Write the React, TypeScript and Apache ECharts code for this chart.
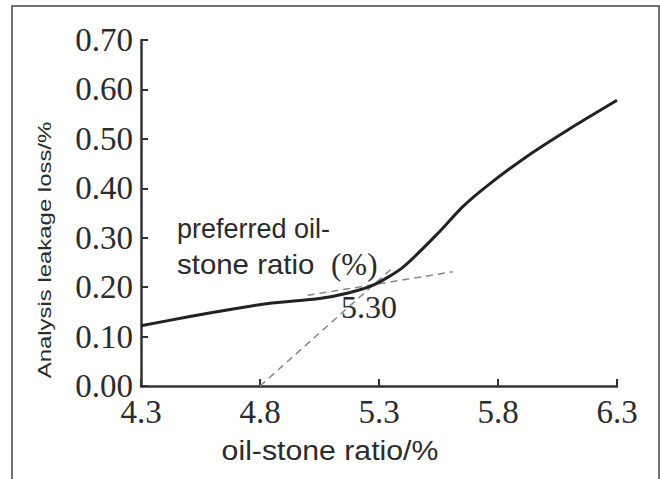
import React, { useEffect, useRef } from "react";
import * as echarts from "echarts";

const curveX = [4.3, 4.5, 4.7, 4.85, 5.05, 5.17, 5.28, 5.4, 5.55, 5.65, 5.76, 5.92, 6.1, 6.3];
const curveY = [0.122, 0.14, 0.157, 0.168, 0.177, 0.188, 0.205, 0.24, 0.31, 0.362, 0.407, 0.464, 0.52, 0.578];
const steepTangentX = [4.8, 5.35];
const steepTangentY = [0.0, 0.236];
const flatTangentX = [5.0, 5.61];
const flatTangentY = [0.1835, 0.231];
const xTicks = [4.3, 4.8, 5.3, 5.8, 6.3];
const yTicks = [0, 0.1, 0.2, 0.3, 0.4, 0.5, 0.6, 0.7];
const xName = "oil-stone ratio/%";
const yName = "Analysis leakage loss/%";
const noteLine1 = "preferred oil-";
const noteLine2 = "stone ratio";
const noteUnit = "(%)";
const optimum = "5.30";

const zip = (xs: number[], ys: number[]) => xs.map((x, i) => [x, ys[i]]);

export default function App() {
  const ref = useRef<HTMLDivElement>(null);
  useEffect(() => {
    if (!ref.current) return;
    const chart = echarts.init(ref.current, null, { renderer: "svg" });
    const serif = "'Liberation Serif', 'Times New Roman', serif";
    const sans = "'Liberation Sans', Arial, sans-serif";
    const txt = "#2b2b2b";
    chart.setOption({
      animation: false,
      backgroundColor: "#fff",
      grid: { left: 141, right: 43, top: 40, bottom: 93 },
      xAxis: {
        type: "value",
        min: 4.3,
        max: 6.3,
        axisLine: { lineStyle: { color: "#333", width: 2.5 } },
        axisTick: { inside: true, length: 7, customValues: xTicks, lineStyle: { color: "#333", width: 2 } },
        axisLabel: {
          customValues: xTicks,
          formatter: (v: number) => v.toFixed(1),
          fontFamily: serif,
          fontSize: 33,
          lineHeight: 33,
          color: txt,
          margin: 9,
        },
        splitLine: { show: false },
      },
      yAxis: {
        type: "value",
        min: 0,
        max: 0.7,
        interval: 0.1,
        axisLine: { show: true, lineStyle: { color: "#333", width: 2.5 } },
        axisTick: { show: true, inside: true, length: 7, lineStyle: { color: "#333", width: 2 } },
        axisLabel: {
          formatter: (v: number) => v.toFixed(2),
          fontFamily: serif,
          fontSize: 33,
          color: txt,
          margin: 8,
        },
        splitLine: { show: false },
      },
      series: [
        {
          type: "line",
          data: zip(steepTangentX, steepTangentY),
          symbol: "none",
          lineStyle: { color: "#888", width: 1.5, type: [7, 5] },
          z: 1,
        },
        {
          type: "line",
          data: zip(flatTangentX, flatTangentY),
          symbol: "none",
          lineStyle: { color: "#888", width: 1.5, type: [7, 5] },
          z: 1,
        },
        {
          type: "line",
          data: zip(curveX, curveY),
          symbol: "none",
          smooth: 0.25,
          lineStyle: { color: "#222", width: 3 },
          z: 3,
        },
      ],
      graphic: [
        {
          type: "rect",
          shape: { x: 12, y: 6, width: 647, height: 490 },
          style: { fill: "none", stroke: "#444", lineWidth: 1.5 },
          silent: true,
        },
        {
          type: "text",
          x: 45,
          y: 250,
          rotation: Math.PI / 2,
          scaleX: 1.33,
          style: { text: yName, font: `18px ${sans}`, fill: txt, align: "center", verticalAlign: "middle" },
        },
        {
          type: "text",
          x: 330,
          y: 451,
          scaleX: 1.12,
          style: { text: xName, font: `27px ${sans}`, fill: txt, align: "center", verticalAlign: "middle" },
        },
        {
          type: "text",
          x: 177,
          y: 229,
          style: { text: noteLine1, font: `27px ${sans}`, fill: txt, align: "left", verticalAlign: "middle" },
        },
        {
          type: "text",
          x: 177,
          y: 264,
          scaleX: 1.09,
          style: { text: noteLine2, font: `27px ${sans}`, fill: txt, align: "left", verticalAlign: "middle" },
        },
        {
          type: "text",
          x: 331,
          y: 264,
          style: { text: noteUnit, font: `31px ${serif}`, fill: txt, align: "left", verticalAlign: "middle" },
        },
        {
          type: "text",
          x: 341,
          y: 307,
          style: { text: optimum, font: `32px ${serif}`, fill: txt, align: "left", verticalAlign: "middle" },
        },
      ],
    });
    return () => chart.dispose();
  }, []);
  return (
    <div
      ref={ref}
      style={{ position: "fixed", left: 0, top: 0, width: 660, height: 479, background: "#fff" }}
    />
  );
}
